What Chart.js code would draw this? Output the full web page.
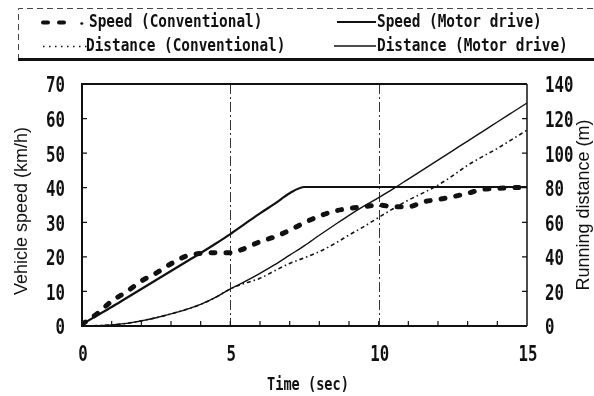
<!DOCTYPE html>
<html>
<head>
<meta charset="utf-8">
<script src="https://cdn.jsdelivr.net/npm/chart.js@4.4.1/dist/chart.umd.min.js"></script>
<style>
  html, body { margin: 0; padding: 0; background: #fff; }
  #wrap { width: 594px; height: 396px; }
</style>
</head>
<body>
<div id="wrap"><canvas id="driveChart" width="594" height="396"></canvas></div>
<script>
// Sample times (sec), every 0.5 s
const timeSec = [0, 0.5, 1, 1.5, 2, 2.5, 3, 3.5, 4, 4.5, 5, 5.5, 6, 6.5, 7, 7.5,
                 8, 8.5, 9, 9.5, 10, 10.5, 11, 11.5, 12, 12.5, 13, 13.5, 14, 14.5, 15];

// Vehicle speed (km/h)
const speedConventional = [0.5, 3.5, 7.2, 9.9, 13.0, 15.3, 18.0, 20.2, 21.0, 21.2, 21.2, 22.5, 24.4, 25.8, 27.7, 29.9,
                           31.8, 33.2, 34.0, 34.5, 35.0, 34.5, 34.5, 35.9, 36.6, 37.4, 38.4, 39.5, 39.8, 40.0, 40.2];
const speedMotor = [0.5, 3.0, 5.5, 8.1, 10.7, 13.3, 15.9, 18.5, 21.1, 23.8, 26.6, 29.6, 32.6, 35.4, 38.4, 40.2,
                    40.2, 40.2, 40.2, 40.2, 40.2, 40.2, 40.2, 40.2, 40.2, 40.2, 40.2, 40.2, 40.2, 40.2, 40.2];

// Running distance (m)
const distanceConventional = [0, 0.2, 0.6, 1.5, 3.0, 4.8, 7.0, 9.5, 12.5, 16.5, 21.5, 24.8, 27.6, 32.0, 36.2, 39.5,
                              43.0, 47.5, 52.6, 57.5, 62.8, 68.0, 72.8, 77.0, 81.5, 87.0, 93.0, 98.0, 102.7, 108.0, 113.3];
const distanceMotor = [0, 0.2, 0.6, 1.5, 3.0, 4.8, 7.0, 9.5, 12.5, 16.5, 21.5, 25.8, 30.5, 35.5, 41.0, 46.5,
                       52.5, 58.3, 64.0, 69.3, 74.3, 79.5, 85.0, 90.5, 96.0, 101.5, 107.0, 112.5, 118.0, 123.5, 129.0];

// Dash-dot reference lines (sec)
const markerTimes = [5, 10];

// Axis tick labels
const timeTicks = [0, 5, 10, 15];
const speedTicks = [0, 10, 20, 30, 40, 50, 60, 70];
const distanceTicks = [0, 20, 40, 60, 80, 100, 120, 140];

const INK = '#111';
const monoFamily = '"DejaVu Sans Mono", "Liberation Mono", monospace';

function toPoints(values) {
    return values.map((v, i) => ({ x: timeSec[i], y: v }));
}

// monospace text squeezed horizontally, like a narrow gothic face
function narrowText(ctx, text, x, y, size, align, squeeze) {
    ctx.save();
    ctx.translate(x, y);
    ctx.scale(squeeze || 0.8, 1);
    ctx.font = 'bold ' + size + 'px ' + monoFamily;
    ctx.textAlign = align || 'left';
    ctx.textBaseline = 'middle';
    ctx.fillStyle = INK;
    ctx.fillText(text, 0, 0);
    ctx.restore();
}

function rotatedTitle(ctx, text, x, y) {
    ctx.save();
    ctx.translate(x, y);
    ctx.rotate(-Math.PI / 2);
    ctx.font = '18px "Liberation Sans", Arial, sans-serif';
    ctx.textAlign = 'center';
    ctx.textBaseline = 'alphabetic';
    ctx.fillStyle = INK;
    ctx.fillText(text, 0, 0);
    ctx.restore();
}

const decorPlugin = {
    id: 'decor',
    beforeDatasetsDraw(chart) {
        const { ctx, chartArea: a, scales } = chart;
        ctx.save();
        ctx.strokeStyle = '#333';
        ctx.lineWidth = 1;
        ctx.setLineDash([10, 3, 2, 3]);
        markerTimes.forEach(t => {
            const x = Math.round(scales.x.getPixelForValue(t)) + 0.5;
            ctx.beginPath();
            ctx.moveTo(x, a.top);
            ctx.lineTo(x, a.bottom);
            ctx.stroke();
        });
        ctx.restore();
    },
    afterDatasetsDraw(chart) {
        const { ctx, chartArea: a, scales } = chart;
        ctx.save();
        ctx.strokeStyle = INK;
        ctx.setLineDash([]);

        // plot frame
        ctx.lineWidth = 2;
        ctx.beginPath();
        ctx.moveTo(a.right, a.top);
        ctx.lineTo(a.left, a.top);
        ctx.lineTo(a.left, a.bottom);
        ctx.lineTo(a.right, a.bottom);
        ctx.stroke();
        ctx.lineWidth = 1.5;
        ctx.beginPath();
        ctx.moveTo(a.right, a.top);
        ctx.lineTo(a.right, a.bottom);
        ctx.stroke();

        // inward tick marks
        ctx.lineWidth = 1.2;
        ctx.beginPath();
        scales.y.ticks.forEach(t => {
            const y = scales.y.getPixelForValue(t.value);
            ctx.moveTo(a.left, y);
            ctx.lineTo(a.left + 5, y);
        });
        scales.y2.ticks.forEach(t => {
            const y = scales.y2.getPixelForValue(t.value);
            ctx.moveTo(a.right, y);
            ctx.lineTo(a.right - 5, y);
        });
        for (let t = 1; t < 15; t++) {
            const x = scales.x.getPixelForValue(t);
            ctx.moveTo(x, a.bottom);
            ctx.lineTo(x, a.bottom - 5);
        }
        ctx.stroke();
        ctx.restore();

        // tick labels in the narrow face
        scales.y.ticks.forEach(t => {
            narrowText(ctx, String(t.value), a.left - 17, scales.y.getPixelForValue(t.value) + 3, 21, 'right', 0.75);
        });
        scales.y2.ticks.forEach(t => {
            narrowText(ctx, String(t.value), a.right + 18, scales.y2.getPixelForValue(t.value) + 3, 21, 'left', 0.75);
        });
        scales.x.ticks.forEach(t => {
            narrowText(ctx, String(t.value), scales.x.getPixelForValue(t.value) + 1, a.bottom + 30, 21, 'center', 0.75);
        });
    },
    afterDraw(chart) {
        const { ctx, width } = chart;
        const ds = chart.data.datasets;
        ctx.save();

        // legend box: dashed top and left, heavy rule underneath
        ctx.strokeStyle = '#444';
        ctx.lineWidth = 1;
        ctx.setLineDash([6, 4]);
        ctx.beginPath();
        ctx.moveTo(18.5, 60);
        ctx.lineTo(18.5, 8.5);
        ctx.lineTo(width, 8.5);
        ctx.stroke();
        ctx.setLineDash([]);
        ctx.strokeStyle = INK;
        ctx.lineWidth = 3;
        ctx.beginPath();
        ctx.moveTo(18, 59.5);
        ctx.lineTo(width, 59.5);
        ctx.stroke();

        // legend symbols
        ctx.lineCap = 'round';
        ctx.lineWidth = 4;
        ctx.beginPath();
        ctx.moveTo(43, 22.5); ctx.lineTo(48, 22.5);
        ctx.moveTo(59, 22.5); ctx.lineTo(64, 22.5);
        ctx.stroke();
        ctx.lineWidth = 2.5;
        ctx.beginPath();
        ctx.moveTo(81.5, 23.5); ctx.lineTo(82, 23.5);
        ctx.stroke();
        ctx.lineCap = 'butt';

        ctx.lineWidth = 1.5;
        ctx.setLineDash([1.5, 4.5]);
        ctx.beginPath();
        ctx.moveTo(43, 46.5); ctx.lineTo(87, 46.5);
        ctx.stroke();
        ctx.setLineDash([]);

        ctx.lineWidth = 2;
        ctx.beginPath();
        ctx.moveTo(337, 22); ctx.lineTo(376, 22);
        ctx.stroke();
        ctx.lineWidth = 1.3;
        ctx.beginPath();
        ctx.moveTo(334, 46); ctx.lineTo(376, 46);
        ctx.stroke();

        narrowText(ctx, ds[0].label, 89, 22.5, 18);
        narrowText(ctx, ds[2].label, 86, 46, 18);
        narrowText(ctx, ds[1].label, 377, 22.5, 18);
        narrowText(ctx, ds[3].label, 377, 46, 18);

        // axis titles
        rotatedTitle(ctx, 'Vehicle speed (km/h)', 27, 211);
        rotatedTitle(ctx, 'Running distance (m)', 589, 205);
        narrowText(ctx, 'Time (sec)', 267, 386, 17);
        ctx.restore();
    }
};

new Chart(document.getElementById('driveChart'), {
    type: 'line',
    data: {
        datasets: [{
            label: 'Speed (Conventional)',
            data: toPoints(speedConventional),
            yAxisID: 'y',
            borderColor: INK,
            borderWidth: 5,
            borderDash: [4, 11],
            borderCapStyle: 'round'
        }, {
            label: 'Speed (Motor drive)',
            data: toPoints(speedMotor),
            yAxisID: 'y',
            borderColor: INK,
            borderWidth: 2.2
        }, {
            label: 'Distance (Conventional)',
            data: toPoints(distanceConventional),
            yAxisID: 'y2',
            borderColor: INK,
            borderWidth: 1.6,
            borderDash: [4, 3, 1.5, 3]
        }, {
            label: 'Distance (Motor drive)',
            data: toPoints(distanceMotor),
            yAxisID: 'y2',
            borderColor: INK,
            borderWidth: 1.4
        }]
    },
    options: {
        responsive: false,
        animation: false,
        layout: { padding: { top: 84 } },
        elements: {
            point: { radius: 0 },
            line: { cubicInterpolationMode: 'monotone', fill: false }
        },
        plugins: {
            legend: { display: false },
            tooltip: { enabled: false }
        },
        scales: {
            x: {
                type: 'linear',
                min: 0,
                max: 15,
                grid: { display: false, drawTicks: false },
                border: { display: false },
                ticks: { display: false },
                afterBuildTicks: s => { s.ticks = timeTicks.map(v => ({ value: v })); },
                afterFit: s => { s.height = 70; }
            },
            y: {
                position: 'left',
                min: 0,
                max: 70,
                grid: { display: false, drawTicks: false },
                border: { display: false },
                ticks: { display: false },
                afterBuildTicks: s => { s.ticks = speedTicks.map(v => ({ value: v })); },
                afterFit: s => { s.width = 82; }
            },
            y2: {
                position: 'right',
                min: 0,
                max: 140,
                grid: { display: false, drawTicks: false },
                border: { display: false },
                ticks: { display: false },
                afterBuildTicks: s => { s.ticks = distanceTicks.map(v => ({ value: v })); },
                afterFit: s => { s.width = 67; }
            }
        }
    },
    plugins: [decorPlugin]
});
</script>
</body>
</html>
